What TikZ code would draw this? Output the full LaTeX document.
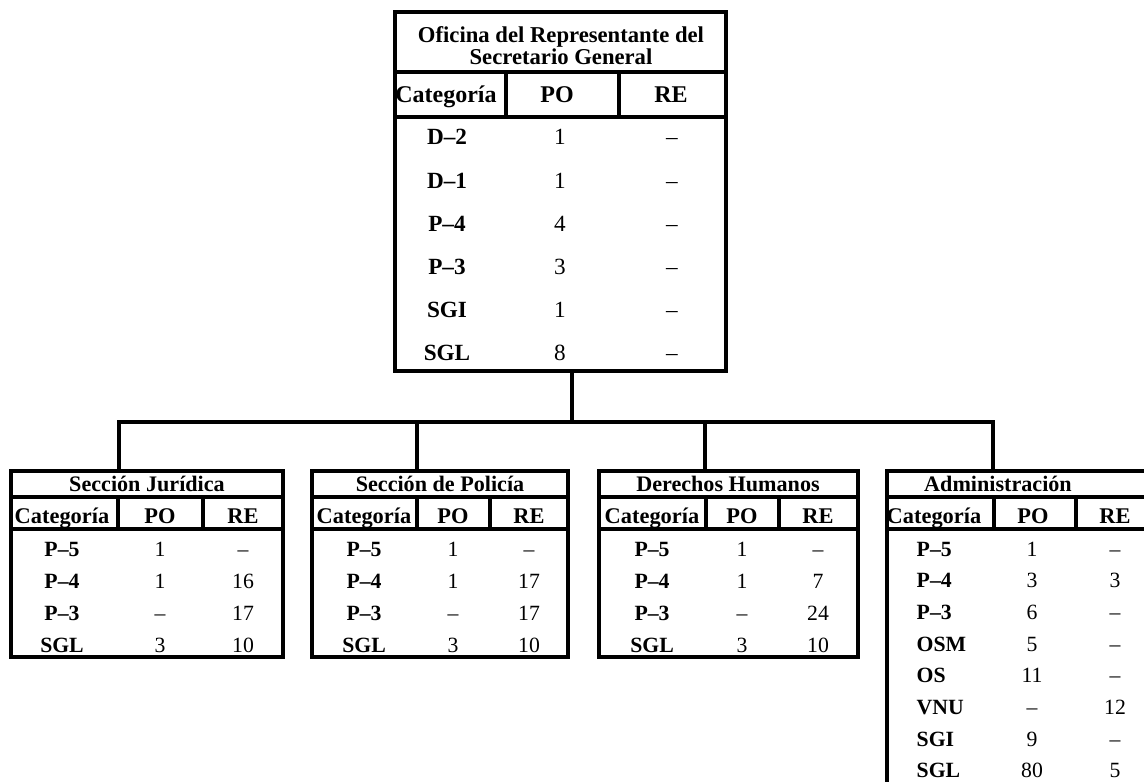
\documentclass[tikz,border=0pt]{standalone}
\usepackage{fontspec}
\setmainfont{Liberation Serif}
\usetikzlibrary{fit}
\begin{document}
\begin{tikzpicture}[x=0.75pt,y=-0.75pt,
  frame/.style={draw, line width=3pt, inner sep=0pt},
  rule/.style={line width=3pt},
  toptitle/.style={font=\fontsize{17}{16.5}\selectfont\bfseries, align=center, anchor=base},
  tophd/.style={font=\fontsize{18}{20}\selectfont\bfseries, anchor=base},
  topcat/.style={font=\fontsize{17.4}{20}\selectfont\bfseries, anchor=base},
  topnum/.style={font=\fontsize{17.4}{20}\selectfont, anchor=base},
  subtitle/.style={font=\fontsize{16.6}{20}\selectfont\bfseries, anchor=base},
  subhd/.style={font=\fontsize{16.8}{20}\selectfont\bfseries, anchor=base},
  subcat/.style={font=\fontsize{16.3}{20}\selectfont\bfseries, anchor=base},
  subnum/.style={font=\fontsize{16.3}{20}\selectfont, anchor=base},
]
\useasboundingbox (0,0) rectangle (1144,781);
\clip (0,0) rectangle (1144,781);

% ---------- top box ----------
\node[frame, fit={(395,12) (726,371)}] (top) {};
\draw[rule] (top.west |- 0,72) -- (top.east |- 0,72);
\draw[rule] (top.west |- 0,117) -- (top.east |- 0,117);
\draw[rule] (506,72) -- (506,117);
\draw[rule] (619,72) -- (619,117);
\node[toptitle] (toptitle) at (561,65) {Oficina del Representante del\\Secretario General};
\node[tophd] (topcath) at (446,103) {Categoría};
\node[tophd] (toppoh) at (557,103) {PO};
\node[tophd] (topreh) at (671,103) {RE};
\foreach \c/\p/\r [count=\i from 0] in {D–2/1/–, D–1/1/–, P–4/4/–, P–3/3/–, SGI/1/–, SGL/8/–}{
  \node[topcat] (topc\i) at (447,145+43*\i) {\c};
  \node[topnum] (topp\i) at (560,145+43*\i) {\p};
  \node[topnum] (topr\i) at (672,145+43*\i) {\r};
}

% ---------- sub boxes ----------
\node[frame, fit={(11,471) (283,657)}] (b1) {};
\node[frame, fit={(312,471) (568,657)}] (b2) {};
\node[frame, fit={(599,471) (858,657)}] (b3) {};
\node[frame, fit={(887,471) (1170,820)}] (b4) {};

\foreach \b/\da/\db in {b1/118/203, b2/417/490, b3/706/779, b4/994/1076}{
  \draw[rule] (\b.west |- 0,497) -- (\b.east |- 0,497);
  \draw[rule] (\b.west |- 0,529) -- (\b.east |- 0,529);
  \draw[rule] (\da,497) -- (\da,529);
  \draw[rule] (\db,497) -- (\db,529);
}

% titles and headers
\node[subtitle] (t1) at (147,491) {Sección Jurídica};
\node[subtitle] (t2) at (440,491) {Sección de Policía};
\node[subtitle] (t3) at (728,491) {Derechos Humanos};
\node[subtitle] (t4) at (998,491) {Administración};

\foreach \b/\xa/\xb/\xc in {1/62/160/243, 2/364/453/529, 3/652/742/818, 4/934/1033/1115}{
  \node[subhd] (h\b a) at (\xa,523) {Categoría};
  \node[subhd] (h\b b) at (\xb,523) {PO};
  \node[subhd] (h\b c) at (\xc,523) {RE};
}

% rows of the three small boxes
\foreach \c/\p/\r [count=\i from 0] in {P–5/1/–, P–4/1/16, P–3/–/17, SGL/3/10}{
  \node[subcat] (r1c\i) at (62,556+32*\i) {\c};
  \node[subnum] (r1p\i) at (160,556+32*\i) {\p};
  \node[subnum] (r1r\i) at (243,556+32*\i) {\r};
}
\foreach \c/\p/\r [count=\i from 0] in {P–5/1/–, P–4/1/17, P–3/–/17, SGL/3/10}{
  \node[subcat] (r2c\i) at (364,556+32*\i) {\c};
  \node[subnum] (r2p\i) at (453,556+32*\i) {\p};
  \node[subnum] (r2r\i) at (529,556+32*\i) {\r};
}
\foreach \c/\p/\r [count=\i from 0] in {P–5/1/–, P–4/1/7, P–3/–/24, SGL/3/10}{
  \node[subcat] (r3c\i) at (652,556+32*\i) {\c};
  \node[subnum] (r3p\i) at (742,556+32*\i) {\p};
  \node[subnum] (r3r\i) at (818,556+32*\i) {\r};
}
\foreach \c/\p/\r [count=\i from 0] in {P–5/1/–, P–4/3/3, P–3/6/–, OSM/5/–, OS/11/–, VNU/–/12, SGI/9/–, SGL/80/5}{
  \node[subcat, anchor=base west] (r4c\i) at (912,556+31.7*\i) {\c};
  \node[subnum] (r4p\i) at (1032,556+31.7*\i) {\p};
  \node[subnum] (r4r\i) at (1115,556+31.7*\i) {\r};
}

% ---------- connectors ----------
\coordinate (j) at (572,422);
\coordinate (d1) at (119,422);
\coordinate (d2) at (417,422);
\coordinate (d3) at (705,422);
\coordinate (d4) at (993,422);
\draw[rule] (top.south -| j) -- (j);
\draw[rule] (b1.north -| d1) -- (d1) -- (d4) -- (b4.north -| d4);
\draw[rule] (d2) -- (b2.north -| d2);
\draw[rule] (d3) -- (b3.north -| d3);
\end{tikzpicture}
\end{document}
